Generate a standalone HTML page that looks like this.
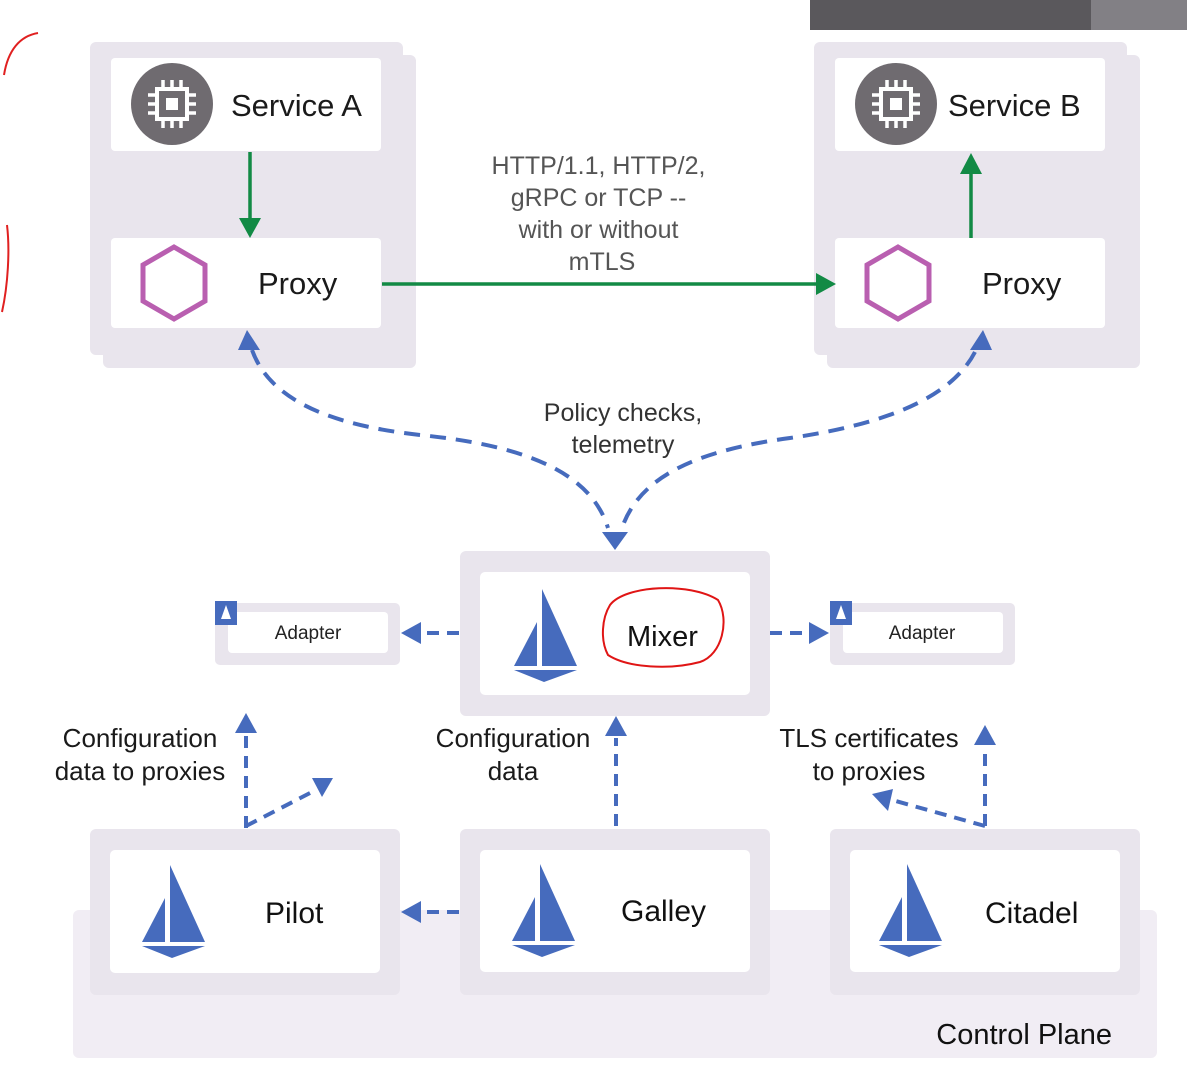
<!DOCTYPE html>
<html><head><meta charset="utf-8"><style>
html,body{margin:0;padding:0;background:#fff;}
svg{display:block;font-family:"Liberation Sans",sans-serif;}
</style></head><body>
<svg width="1187" height="1068" viewBox="0 0 1187 1068" xmlns="http://www.w3.org/2000/svg">
<defs>
<g id="sail">
<path d="M1,0 L36,77 L1,77Z" fill="#466bbd"/>
<path d="M-4,33 L-4,77 L-27,77Z" fill="#466bbd"/>
<path d="M-27,81 L36,81 L3,93Z" fill="#466bbd"/>
</g>
<g id="chip">
<circle r="41" fill="#6f6b70"/>
<rect x="-15" y="-15" width="30" height="30" fill="none" stroke="#fff" stroke-width="4"/>
<rect x="-6" y="-6" width="12" height="12" fill="#fff"/>
<path d="M-9,-15v-9M0,-15v-9M9,-15v-9M-9,15v9M0,15v9M9,15v9M-15,-9h-9M-15,0h-9M-15,9h-9M15,-9h9M15,0h9M15,9h9" stroke="#fff" stroke-width="3.5"/>
</g>
<g id="hex"><polygon points="0,-36 31,-18 31,18 0,36 -31,18 -31,-18" fill="none" stroke="#b95fb0" stroke-width="5"/></g>
</defs>
<rect width="1187" height="1068" fill="#fff"/>
<rect x="810" y="0" width="281" height="30" fill="#5a585c"/>
<rect x="1091" y="0" width="96" height="30" fill="#828085"/>
<path d="M38,33 C20,36 8,50 4,75 M7,225 C10,250 8,285 2,312" fill="none" stroke="#e02020" stroke-width="2"/>

<rect x="103" y="55" width="313" height="313" rx="6" fill="#e9e5ed"/>
<rect x="90" y="42" width="313" height="313" rx="6" fill="#e9e5ed"/>
<rect x="111" y="58" width="270" height="93" rx="4" fill="#fff"/>
<rect x="111" y="238" width="270" height="90" rx="4" fill="#fff"/>
<use href="#chip" x="172" y="104"/>
<text x="231" y="116" font-size="31" fill="#1a1a1a">Service A</text>
<use href="#hex" x="174" y="283"/>
<text x="258" y="294" font-size="31" fill="#1a1a1a">Proxy</text>

<rect x="827" y="55" width="313" height="313" rx="6" fill="#e9e5ed"/>
<rect x="814" y="42" width="313" height="313" rx="6" fill="#e9e5ed"/>
<rect x="835" y="58" width="270" height="93" rx="4" fill="#fff"/>
<rect x="835" y="238" width="270" height="90" rx="4" fill="#fff"/>
<use href="#chip" x="896" y="104"/>
<text x="948" y="116" font-size="31" fill="#1a1a1a">Service B</text>
<use href="#hex" x="898" y="283"/>
<text x="982" y="294" font-size="31" fill="#1a1a1a">Proxy</text>

<g stroke="#128a45" stroke-width="3.5" fill="#128a45">
<line x1="250" y1="152" x2="250" y2="222"/>
<polygon points="239,218 261,218 250,238" stroke="none"/>
<line x1="971" y1="238" x2="971" y2="170"/>
<polygon points="960,174 982,174 971,153" stroke="none"/>
<line x1="382" y1="284" x2="820" y2="284"/>
<polygon points="816,273 816,295 836,284" stroke="none"/>
</g>
<text font-size="25" fill="#555" text-anchor="middle">
<tspan x="602" y="174">HTTP/1.1, HTTP/2,</tspan>
<tspan x="602" y="206">gRPC or TCP --</tspan>
<tspan x="602" y="238">with or without</tspan>
<tspan x="602" y="270">mTLS</tspan>
</text>

<g fill="none" stroke="#466bbd" stroke-width="4" stroke-dasharray="16,10">
<path d="M252,350 C270,400 330,425 420,435 C520,445 590,470 608,528"/>
<path d="M975,352 C950,400 880,425 790,438 C700,450 640,475 622,528"/>
</g>
<g fill="#466bbd">
<polygon points="238,350 260,350 247,330"/>
<polygon points="970,350 992,350 983,330"/>
<polygon points="602,532 628,532 615,550"/>
</g>
<text font-size="25" fill="#333" text-anchor="middle"><tspan x="623" y="421">Policy checks,</tspan><tspan x="623" y="453">telemetry</tspan></text>

<rect x="460" y="551" width="310" height="165" rx="6" fill="#e9e5ed"/>
<rect x="480" y="572" width="270" height="123" rx="5" fill="#fff"/>
<use href="#sail" x="541" y="589"/>
<text x="627" y="646" font-size="29" fill="#111">Mixer</text>
<path d="M610,605 C625,585 690,582 718,600 C730,620 722,655 700,662 C670,670 628,668 608,655 C600,640 602,618 610,605Z" fill="none" stroke="#e01515" stroke-width="2"/>

<rect x="215" y="603" width="185" height="62" rx="5" fill="#e9e5ed"/>
<rect x="228" y="612" width="160" height="41" rx="4" fill="#fff"/>
<rect x="215" y="601" width="22" height="24" fill="#466bbd"/>
<path d="M226,605 L231,619 L221,619Z" fill="#fff"/>
<text x="308" y="639" font-size="19" fill="#222" text-anchor="middle">Adapter</text>
<rect x="830" y="603" width="185" height="62" rx="5" fill="#e9e5ed"/>
<rect x="843" y="612" width="160" height="41" rx="4" fill="#fff"/>
<rect x="830" y="601" width="22" height="24" fill="#466bbd"/>
<path d="M841,605 L846,619 L836,619Z" fill="#fff"/>
<text x="922" y="639" font-size="19" fill="#222" text-anchor="middle">Adapter</text>

<rect x="73" y="910" width="1084" height="148" rx="6" fill="#f1edf4"/>
<rect x="90" y="829" width="310" height="166" rx="6" fill="#e9e5ed"/>
<rect x="110" y="850" width="270" height="123" rx="5" fill="#fff"/>
<use href="#sail" x="169" y="865"/>
<text x="265" y="923" font-size="30" fill="#111">Pilot</text>
<rect x="460" y="829" width="310" height="166" rx="6" fill="#e9e5ed"/>
<rect x="480" y="850" width="270" height="122" rx="5" fill="#fff"/>
<use href="#sail" x="539" y="864"/>
<text x="621" y="921" font-size="30" fill="#111">Galley</text>
<rect x="830" y="829" width="310" height="166" rx="6" fill="#e9e5ed"/>
<rect x="850" y="850" width="270" height="122" rx="5" fill="#fff"/>
<use href="#sail" x="906" y="864"/>
<text x="985" y="923" font-size="30" fill="#111">Citadel</text>
<text x="1112" y="1044" font-size="29" fill="#111" text-anchor="end">Control Plane</text>

<g stroke="#466bbd" stroke-width="4" stroke-dasharray="12,8" fill="none">
<line x1="459" y1="633" x2="420" y2="633"/>
<line x1="770" y1="633" x2="810" y2="633"/>
<line x1="246" y1="828" x2="246" y2="735"/>
<line x1="246" y1="826" x2="312" y2="792"/>
<line x1="616" y1="826" x2="616" y2="738"/>
<line x1="985" y1="826" x2="985" y2="748"/>
<line x1="985" y1="826" x2="892" y2="800"/>
<line x1="459" y1="912" x2="420" y2="912"/>
</g>
<g fill="#466bbd">
<polygon points="401,633 421,622 421,644"/>
<polygon points="829,633 809,622 809,644"/>
<polygon points="246,713 235,733 257,733"/>
<polygon points="333,778 312,778 322,797"/>
<polygon points="616,716 605,736 627,736"/>
<polygon points="985,725 974,745 996,745"/>
<polygon points="872,794 893,789 888,811"/>
<polygon points="401,912 421,901 421,923"/>
</g>
<g font-size="26" fill="#1a1a1a" text-anchor="middle">
<text><tspan x="140" y="747">Configuration</tspan><tspan x="140" y="780">data to proxies</tspan></text>
<text><tspan x="513" y="747">Configuration</tspan><tspan x="513" y="780">data</tspan></text>
<text><tspan x="869" y="747">TLS certificates</tspan><tspan x="869" y="780">to proxies</tspan></text>
</g>
</svg>
</body></html>
